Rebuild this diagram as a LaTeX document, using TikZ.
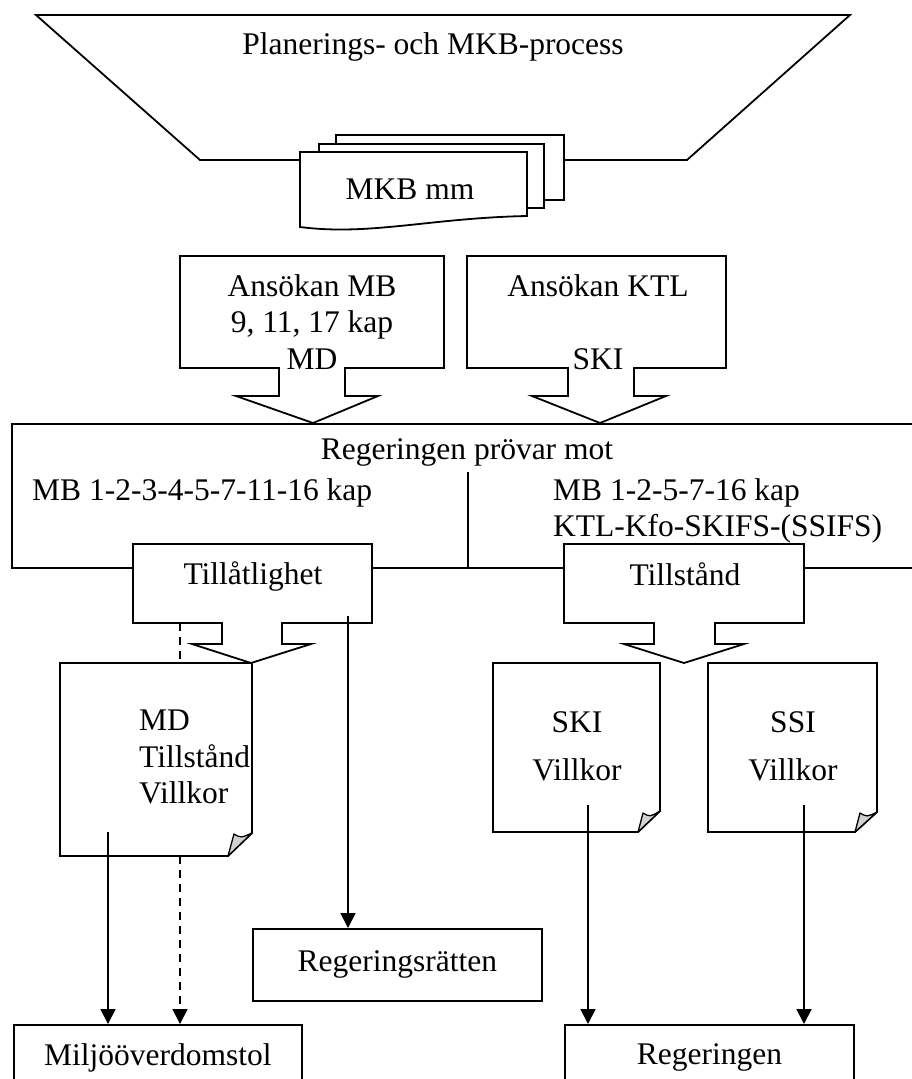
\documentclass[tikz,border=0pt]{standalone}
\usepackage{fontspec}
\setmainfont{Liberation Serif}
\usetikzlibrary{arrows.meta}
\begin{document}
\begin{tikzpicture}[x=1pt,y=-1pt,
  outline/.style={draw=black, line width=1.8pt, fill=white, line join=miter},
  label/.style={inner sep=0pt, font=\fontsize{31.5}{36.5}\selectfont, align=center},
  flow/.style={line width=1.8pt, -{Triangle[length=15pt,width=15pt]}},
  dashflow/.style={flow, dash pattern=on 8pt off 6pt},
  dashline/.style={line width=1.8pt, dash pattern=on 8pt off 6pt},
  divider/.style={line width=1.1pt},
  fold/.style={draw=black, line width=1.3pt, fill=gray!35, line join=round},
  boxnode/.style={outline, rectangle, anchor=north west, inner sep=0pt,
    font=\fontsize{31.5}{36.5}\selectfont}]

% page
\fill[white] (0,0) rectangle (912,1079);
\useasboundingbox (0,0) rectangle (912,1079);

% planning funnel
\draw[outline] (36,15) -- (850,15) -- (687,160) -- (200,160) -- cycle;
\node[label] (plan) at (433,47) {Planerings- och MKB-process};

% stack of documents
\draw[outline] (336,135) rectangle (564,200);
\draw[outline] (319,144) rectangle (544,208);
\draw[outline] (300,152) -- (527,152) -- (527,216)
  .. controls (430,218) and (370,236) .. (300,227) -- cycle;
\node[label] (mkb) at (410,189) {MKB mm};

% government review box
\draw[outline] (12,424) rectangle (922,568);
\node[label] (prov) at (467,452) {Regeringen prövar mot};
\coordinate (divTop) at (468,472);
\coordinate (divBot) at (468,568);
\draw[divider] (divTop) -- (divBot);
\node[label, anchor=west] (mbLeft) at (32,493) {MB 1-2-3-4-5-7-11-16 kap};
\node[label, anchor=west, align=left] (mbRight) at (553,511)
  {MB 1-2-5-7-16 kap\\KTL-Kfo-SKIFS-(SSIFS)};

% application callouts
\draw[outline] (180,256) -- (444,256) -- (444,368) -- (345,368) -- (345,396)
  -- (378,396) -- (313,423) -- (236,396) -- (279,396) -- (279,368)
  -- (180,368) -- cycle;
\node[label] (ansMB) at (312,322) {Ansökan MB\\9, 11, 17 kap\\MD};

\draw[outline] (467,256) -- (726,256) -- (726,368) -- (634,368) -- (634,396)
  -- (666,396) -- (600,423) -- (532,396) -- (568,396) -- (568,368)
  -- (467,368) -- cycle;
\node[label] (ansKTL) at (598,322) {Ansökan KTL\\\strut\\SKI};

% decision callouts
\draw[outline] (133,544) -- (372,544) -- (372,623) -- (282,623) -- (282,644)
  -- (311,644) -- (251,663) -- (192,644) -- (222,644) -- (222,623)
  -- (133,623) -- cycle;
\node[label] (tillat) at (253,576) {Tillåtlighet};

\draw[outline] (564,544) -- (804,544) -- (804,623) -- (715,623) -- (715,644)
  -- (744,644) -- (684,663) -- (624,644) -- (654,644) -- (654,623)
  -- (564,623) -- cycle;
\node[label] (tillst) at (685,574) {Tillstånd};

% documents with folded corners
\draw[outline] (60,663) -- (252,663) -- (252,833) -- (228,856) -- (60,856) -- cycle;
\draw[fold] (228,856) -- (234,834) .. controls (241,838) .. (252,833) -- cycle;
\node[label, anchor=west, align=left] (mdDoc) at (139,757) {MD\\Tillstånd\\Villkor};

\draw[outline] (493,663) -- (660,663) -- (660,811) -- (638,832) -- (493,832) -- cycle;
\draw[fold] (638,832) -- (643,813) .. controls (650,817) .. (660,811) -- cycle;
\node[label] (skiDoc) at (577,746) {SKI\\[11.5pt]Villkor};

\draw[outline] (708,663) -- (877,663) -- (877,812) -- (855,832) -- (708,832) -- cycle;
\draw[fold] (855,832) -- (860,813) .. controls (867,817) .. (877,812) -- cycle;
\node[label] (ssiDoc) at (793,746) {SSI\\[11.5pt]Villkor};

% target bodies
\node[boxnode, minimum width=288pt, minimum height=66pt] (miljo) at (13,1024) {Miljööverdomstol};
\node[boxnode, minimum width=289pt, minimum height=72pt] (rr) at (252,928) {Regeringsrätten};
\node[boxnode, minimum width=289pt, minimum height=66pt] (reg) at (564,1024) {Regeringen};

% connectors
\coordinate (tlBase) at (180,623);
\coordinate (mdTop) at (180,663);
\coordinate (mdBot) at (180,856);
\coordinate (mdOut) at (108,832);
\coordinate (tlOut) at (348,616);
\coordinate (skiOut) at (588,805);
\coordinate (ssiOut) at (804,805);

\draw[dashline] (tlBase) -- (mdTop);
\draw[dashflow] (mdBot) -- (mdBot |- miljo.north);
\draw[flow] (mdOut) -- (mdOut |- miljo.north);
\draw[flow] (tlOut) -- (tlOut |- rr.north);
\draw[flow] (skiOut) -- (skiOut |- reg.north);
\draw[flow] (ssiOut) -- (ssiOut |- reg.north);
\end{tikzpicture}
\end{document}
